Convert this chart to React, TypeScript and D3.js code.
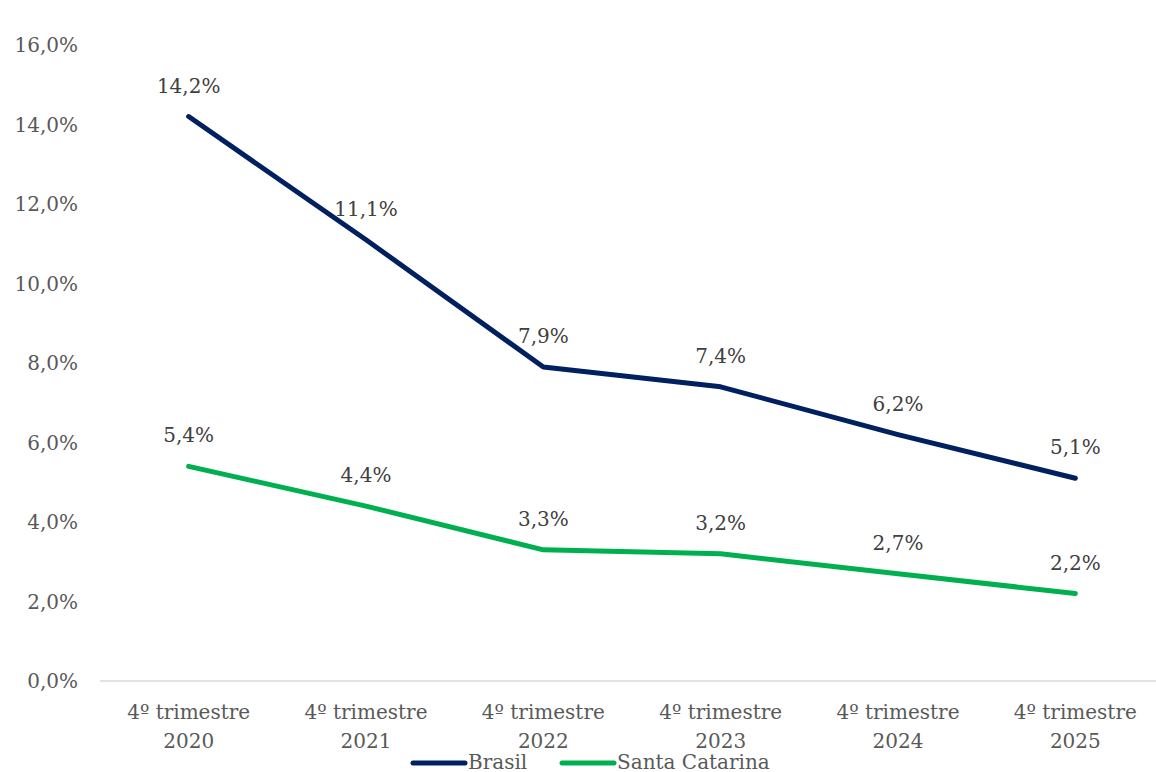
import * as d3 from "d3";
import { useEffect, useRef } from "react";

const categories = ["4º trimestre|2020", "4º trimestre|2021", "4º trimestre|2022", "4º trimestre|2023", "4º trimestre|2024", "4º trimestre|2025"];
const brasil = [14.2, 11.1, 7.9, 7.4, 6.2, 5.1];
const santaCatarina = [5.4, 4.4, 3.3, 3.2, 2.7, 2.2];
const yTicks = [0, 2, 4, 6, 8, 10, 12, 14, 16];

const seriesNames = ["Brasil", "Santa Catarina"];
const seriesColors = ["#002060", "#00B050"];

const width = 1156;
const height = 772;
const font = "Georgia, 'DejaVu Serif', serif";
const textColor = "#595959";

const fmt = (v: number) => v.toFixed(1).replace(".", ",") + "%";

const App = () => {
    const ref = useRef<SVGSVGElement>(null);

    useEffect(() => {
        const svg = d3.select(ref.current);
        svg.selectAll("*").remove();

        const x = d3.scaleBand()
            .domain(categories)
            .range([100, 1164]);

        const y = d3.scaleLinear()
            .domain([0, 16])
            .range([681, 45]);

        const cx = (c: string) => (x(c) || 0) + x.bandwidth() / 2;

        // y tick labels
        svg.append("g")
            .selectAll("text")
            .data(yTicks)
            .join("text")
            .attr("x", 78)
            .attr("y", d => y(d))
            .attr("dy", "0.35em")
            .attr("text-anchor", "end")
            .attr("font-family", font)
            .attr("font-size", 20)
            .attr("fill", textColor)
            .text(d => fmt(d));

        // baseline
        svg.append("line")
            .attr("x1", 100)
            .attr("x2", 1156)
            .attr("y1", y(0))
            .attr("y2", y(0))
            .attr("stroke", "#d9d9d9")
            .attr("stroke-width", 1.5);

        // category labels
        const cat = svg.append("g")
            .selectAll("text")
            .data(categories)
            .join("text")
            .attr("text-anchor", "middle")
            .attr("font-family", font)
            .attr("font-size", 20)
            .attr("fill", textColor);
        cat.append("tspan")
            .attr("x", d => cx(d))
            .attr("y", 719)
            .text(d => d.split("|")[0]);
        cat.append("tspan")
            .attr("x", d => cx(d))
            .attr("y", 748)
            .text(d => d.split("|")[1]);

        const line = d3.line<number>()
            .x((_, i) => cx(categories[i]))
            .y(d => y(d));

        [brasil, santaCatarina].forEach((values, s) => {
            svg.append("path")
                .datum(values)
                .attr("d", line)
                .attr("fill", "none")
                .attr("stroke", seriesColors[s])
                .attr("stroke-width", 5)
                .attr("stroke-linejoin", "round")
                .attr("stroke-linecap", "round");

            svg.append("g")
                .selectAll("text")
                .data(values)
                .join("text")
                .attr("x", (_, i) => cx(categories[i]))
                .attr("y", d => y(d) - 24)
                .attr("text-anchor", "middle")
                .attr("font-family", font)
                .attr("font-size", 20)
                .attr("fill", "#404040")
                .text(d => fmt(d));
        });

        // legend
        const legend = svg.append("g");
        const legendX = [413, 562];
        seriesNames.forEach((name, i) => {
            legend.append("line")
                .attr("x1", legendX[i])
                .attr("x2", legendX[i] + 52)
                .attr("y1", 763)
                .attr("y2", 763)
                .attr("stroke", seriesColors[i])
                .attr("stroke-width", 5)
                .attr("stroke-linecap", "round");
            legend.append("text")
                .attr("x", legendX[i] + 55)
                .attr("y", 769)
                .attr("font-family", "'DejaVu Serif', serif")
                .attr("font-size", 20)
                .attr("fill", textColor)
                .text(name);
        });
    }, []);

    return (
        <svg ref={ref} width={width} height={height}
            style={{ position: "absolute", left: 0, top: 0, background: "#fff" }} />
    );
};

export default App;
